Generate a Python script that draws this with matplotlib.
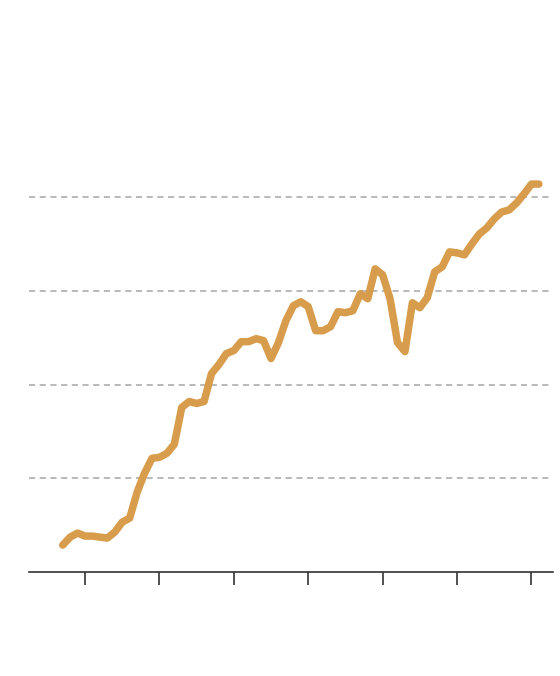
import matplotlib
matplotlib.use("Agg")
import matplotlib.pyplot as plt
import numpy as np

# Data (x: period index, y: value)
x_vals = list(range(-3, 62))
y_vals = [0.287, 0.372, 0.415, 0.383, 0.383, 0.372, 0.362, 0.426, 0.532, 0.574,
          0.851, 1.053, 1.213, 1.223, 1.266, 1.362, 1.755, 1.819, 1.798, 1.819,
          2.117, 2.213, 2.330, 2.362, 2.457, 2.457, 2.489, 2.468, 2.277, 2.447,
          2.681, 2.840, 2.883, 2.830, 2.574, 2.574, 2.617, 2.777, 2.766, 2.787,
          2.968, 2.915, 3.234, 3.170, 2.915, 2.447, 2.351, 2.872, 2.819, 2.926,
          3.202, 3.255, 3.415, 3.404, 3.383, 3.500, 3.606, 3.670, 3.766, 3.840,
          3.862, 3.936, 4.032, 4.138, 4.138]
x_ticks = [0, 10, 20, 30, 40, 50, 60]
y_grid = [1, 2, 3, 4]

fig = plt.figure(figsize=(5.6, 6.76), dpi=100)
ax = fig.add_axes([29/560, 1-572/676, (553-29)/560, (572-55)/676])

for g in y_grid:
    ax.axhline(g, color="#a6a6a6", lw=1.1, ls=(0, (4, 3)), zorder=1)

ax.plot(x_vals, y_vals, color="#d89c4d", lw=5.4, solid_capstyle="round",
        solid_joinstyle="round", zorder=3)

ax.set_xlim(-7.53, 62.9)
ax.set_ylim(0, 5.515)
ax.set_xticks(x_ticks)
ax.set_yticks([])
ax.tick_params(axis="x", length=9.5, width=1.2, color="#333333", labelbottom=False)
for s in ["top", "right", "left"]:
    ax.spines[s].set_visible(False)
ax.spines["bottom"].set_color("#333333")
ax.spines["bottom"].set_linewidth(1.2)

fig.savefig("out.png", dpi=100)
